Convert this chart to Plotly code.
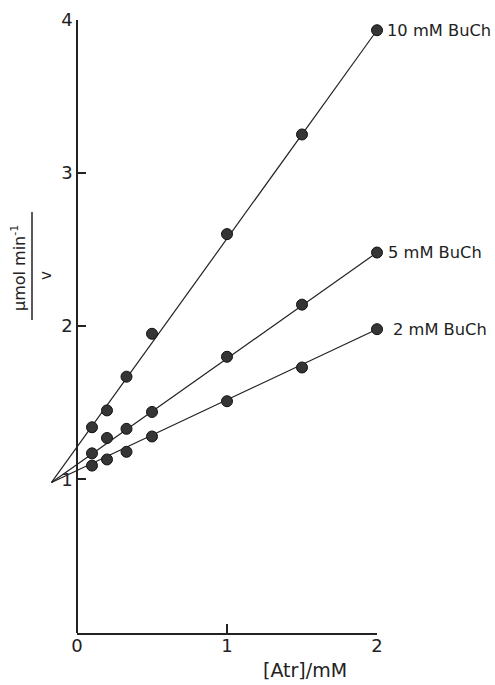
import plotly.graph_objects as go

# Atropine concentration (mM) and 1/v readings for three butyrylcholine levels
atr_mM = [0.1, 0.2, 0.33, 0.5, 1.0, 1.5, 2.0]
inv_v_10mM = [1.34, 1.45, 1.67, 1.95, 2.60, 3.25, 3.93]
inv_v_5mM = [1.17, 1.27, 1.33, 1.44, 1.80, 2.14, 2.48]
inv_v_2mM = [1.09, 1.13, 1.18, 1.28, 1.51, 1.73, 1.98]
series_labels = ["10 mM BuCh", "5 mM BuCh", "2 mM BuCh"]

# Straight-line fits: common intersection left of the y axis, ending at 2 mM
fit_x = [-0.17, 2.0]
fit_10mM = [0.98, 3.93]
fit_5mM = [0.98, 2.48]
fit_2mM = [0.98, 1.98]

x_ticks = [0, 1, 2]
y_ticks = [1, 2, 3, 4]

W, H = 495, 685
X0_PX, X2_PX = 77, 377          # pixel columns of x = 0 and x = 2
Y0_PX, Y4_PX = 632.7, 19.5      # pixel rows of y = 0 and y = 4
INK = "#222222"
FONT = "DejaVu Sans"

px_per_unit = (X2_PX - X0_PX) / 2.0
data_x_range = [-X0_PX / px_per_unit, (W - X0_PX) / px_per_unit]
y_domain = [(H - Y0_PX) / H, (H - Y4_PX) / H]

fig = go.Figure()

# empty trace so the visible [0, 2] x axis gets drawn
fig.add_trace(go.Scatter(x=[], y=[], xaxis="x", yaxis="y",
                         showlegend=False, hoverinfo="skip"))

series = [
    (inv_v_10mM, fit_10mM, series_labels[0], 8),
    (inv_v_5mM, fit_5mM, series_labels[1], 9),
    (inv_v_2mM, fit_2mM, series_labels[2], 14),
]
for yvals, fit, label, shift in series:
    fig.add_trace(go.Scatter(
        x=fit_x, y=fit, mode="lines", xaxis="x2", yaxis="y",
        line=dict(color=INK, width=1.2), showlegend=False, hoverinfo="skip",
    ))
    fig.add_trace(go.Scatter(
        x=atr_mM, y=yvals, mode="markers", xaxis="x2", yaxis="y",
        marker=dict(size=11, color="#353535", line=dict(color="#111111", width=1)),
        cliponaxis=False, showlegend=False, name=label,
    ))
    fig.add_annotation(
        x=atr_mM[-1], y=yvals[-1], xref="x2", yref="y", text=label,
        xanchor="left", yanchor="middle", xshift=shift, showarrow=False,
        font=dict(family=FONT, size=16.3, color=INK),
    )

axis_common = dict(
    showgrid=False, zeroline=False, showline=True, linecolor=INK, linewidth=1.5,
    ticks="inside", tickcolor=INK, tickwidth=1.5, automargin=False,
    tickfont=dict(family=FONT, size=18, color=INK),
)

fig.update_layout(
    width=W, height=H,
    margin=dict(l=0, r=0, t=0, b=0, autoexpand=False),
    paper_bgcolor="white", plot_bgcolor="rgba(0,0,0,0)",
    xaxis=dict(
        domain=[X0_PX / W, X2_PX / W], range=[0, 2], anchor="y",
        tickvals=x_ticks, ticklen=9, ticklabelstandoff=-4, **axis_common,
    ),
    xaxis2=dict(domain=[0, 1], range=data_x_range, anchor="y", visible=False),
    yaxis=dict(
        domain=y_domain, range=[0, 4], anchor="free", position=X0_PX / W,
        tickvals=y_ticks, ticklen=8, **axis_common,
    ),
)

# x-axis title
fig.add_annotation(
    x=305 / W, y=(H - 670) / H, xref="paper", yref="paper", text="[Atr]/mM",
    showarrow=False, xanchor="center", yanchor="middle",
    font=dict(family=FONT, size=19, color=INK),
)

# y-axis title written as a fraction: μmol min⁻¹ over v
fig.add_annotation(
    x=18 / W, y=(H - 268) / H, xref="paper", yref="paper",
    text="μmol min<sup>-1</sup>", textangle=-90, showarrow=False,
    xanchor="center", yanchor="middle",
    font=dict(family=FONT, size=16, color=INK),
)
fig.add_shape(
    type="line", xref="paper", yref="paper",
    x0=32 / W, x1=32 / W, y0=(H - 320) / H, y1=(H - 212) / H,
    line=dict(color=INK, width=1.5),
)
fig.add_annotation(
    x=46 / W, y=(H - 276) / H, xref="paper", yref="paper",
    text="v", textangle=-90, showarrow=False,
    xanchor="center", yanchor="middle",
    font=dict(family=FONT, size=15, color=INK),
)

fig.write_html("out.html")
